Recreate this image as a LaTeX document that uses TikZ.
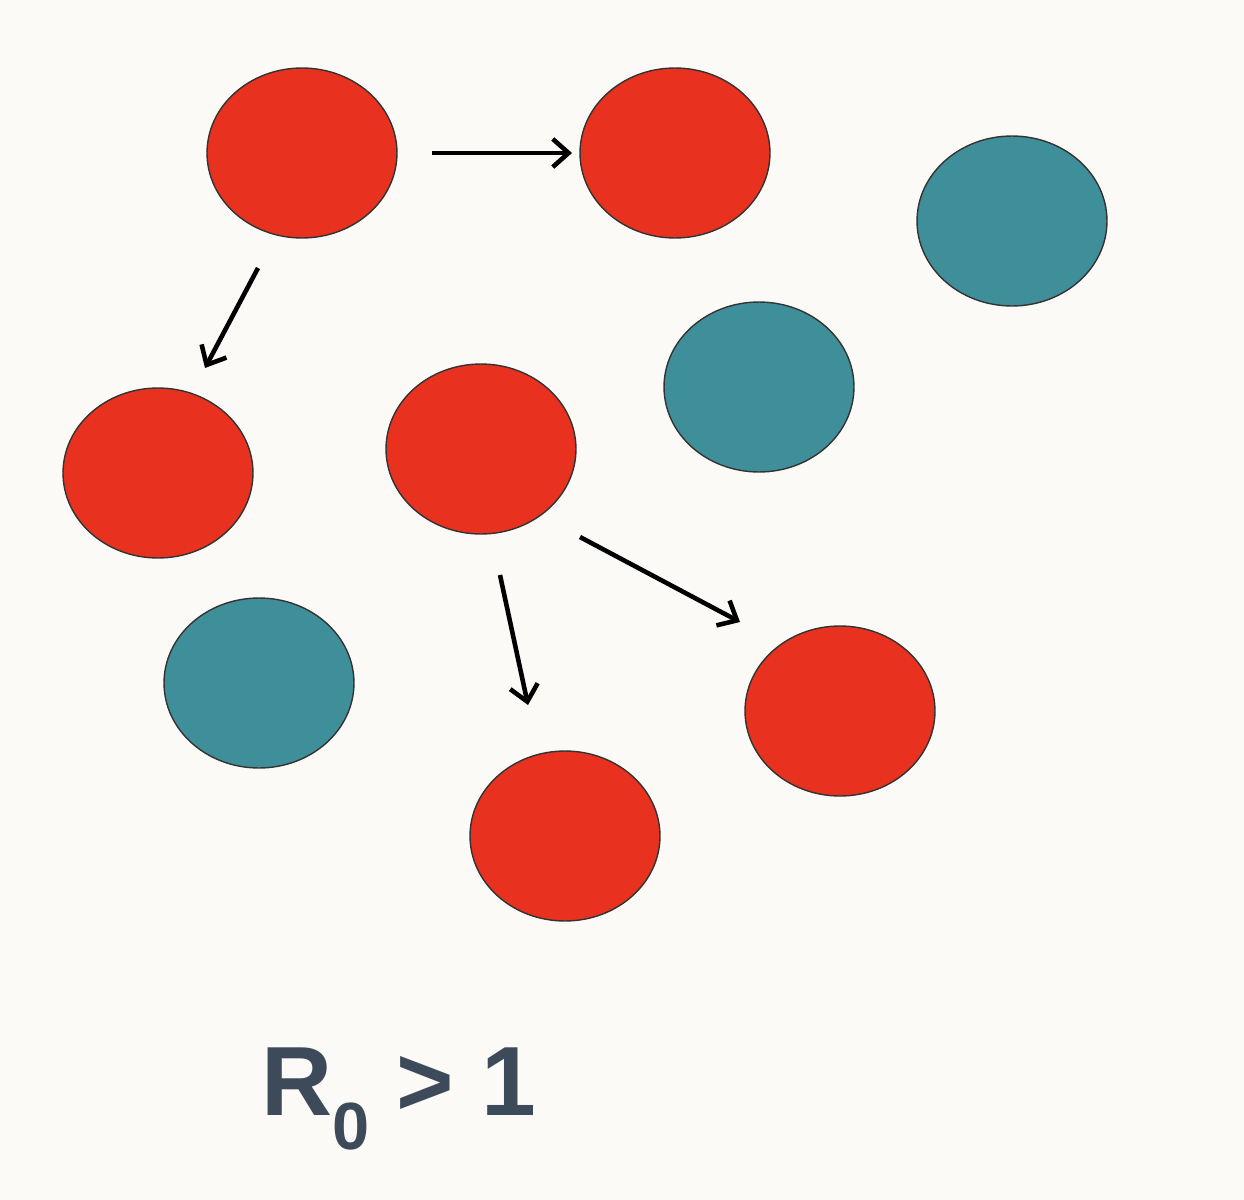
\documentclass[tikz,border=0pt]{standalone}
\usepackage{fontspec}
\setmainfont{Liberation Sans}
\usetikzlibrary{arrows.meta,shapes.geometric}
\definecolor{inf}{HTML}{E8321F}
\definecolor{sus}{HTML}{3F8F9B}
\definecolor{bg}{HTML}{FBFAF7}
\definecolor{txt}{HTML}{3D4A5A}
\begin{document}
\begin{tikzpicture}[x=0.02cm,y=-0.02cm,
  person/.style={draw=black!80,line width=0.8pt,ellipse,minimum width=3.8cm,minimum height=3.4cm},
  infd/.style={person,fill=inf},
  susc/.style={person,fill=sus},
  spread/.style={line width=2.6pt,-{Straight Barb[length=9pt,width=16pt,line width=2.6pt]}}]
\fill[bg] (0,0) rectangle (1244,1200);
\useasboundingbox (0,0) rectangle (1244,1200);
\node[infd] (a) at (302,153) {};
\node[infd] (b) at (675,153) {};
\node[infd] (c) at (158,473) {};
\node[infd] (d) at (481,449) {};
\node[infd] (e) at (840,711) {};
\node[infd] (f) at (565,836) {};
\node[susc] (g) at (1012,221) {};
\node[susc] (h) at (759,387) {};
\node[susc] (i) at (259,683) {};
\coordinate (a1) at (432,153); \coordinate (b1) at (572,153);
\coordinate (a2) at (258,268); \coordinate (c1) at (205,368);
\coordinate (d1) at (500,575); \coordinate (f1) at (528,705);
\coordinate (d2) at (580,537); \coordinate (e1) at (740,622);
\draw[spread] (a1) -- (b1);
\draw[spread] (a2) -- (c1);
\draw[spread] (d1) -- (f1);
\draw[spread] (d2) -- (e1);
\node[text=txt,font=\bfseries\fontsize{56}{60}\selectfont,anchor=base west] (r) at (255,1115) {R\raisebox{-0.35em}{\fontsize{38}{40}\selectfont 0} {>} 1};
\end{tikzpicture}
\end{document}
